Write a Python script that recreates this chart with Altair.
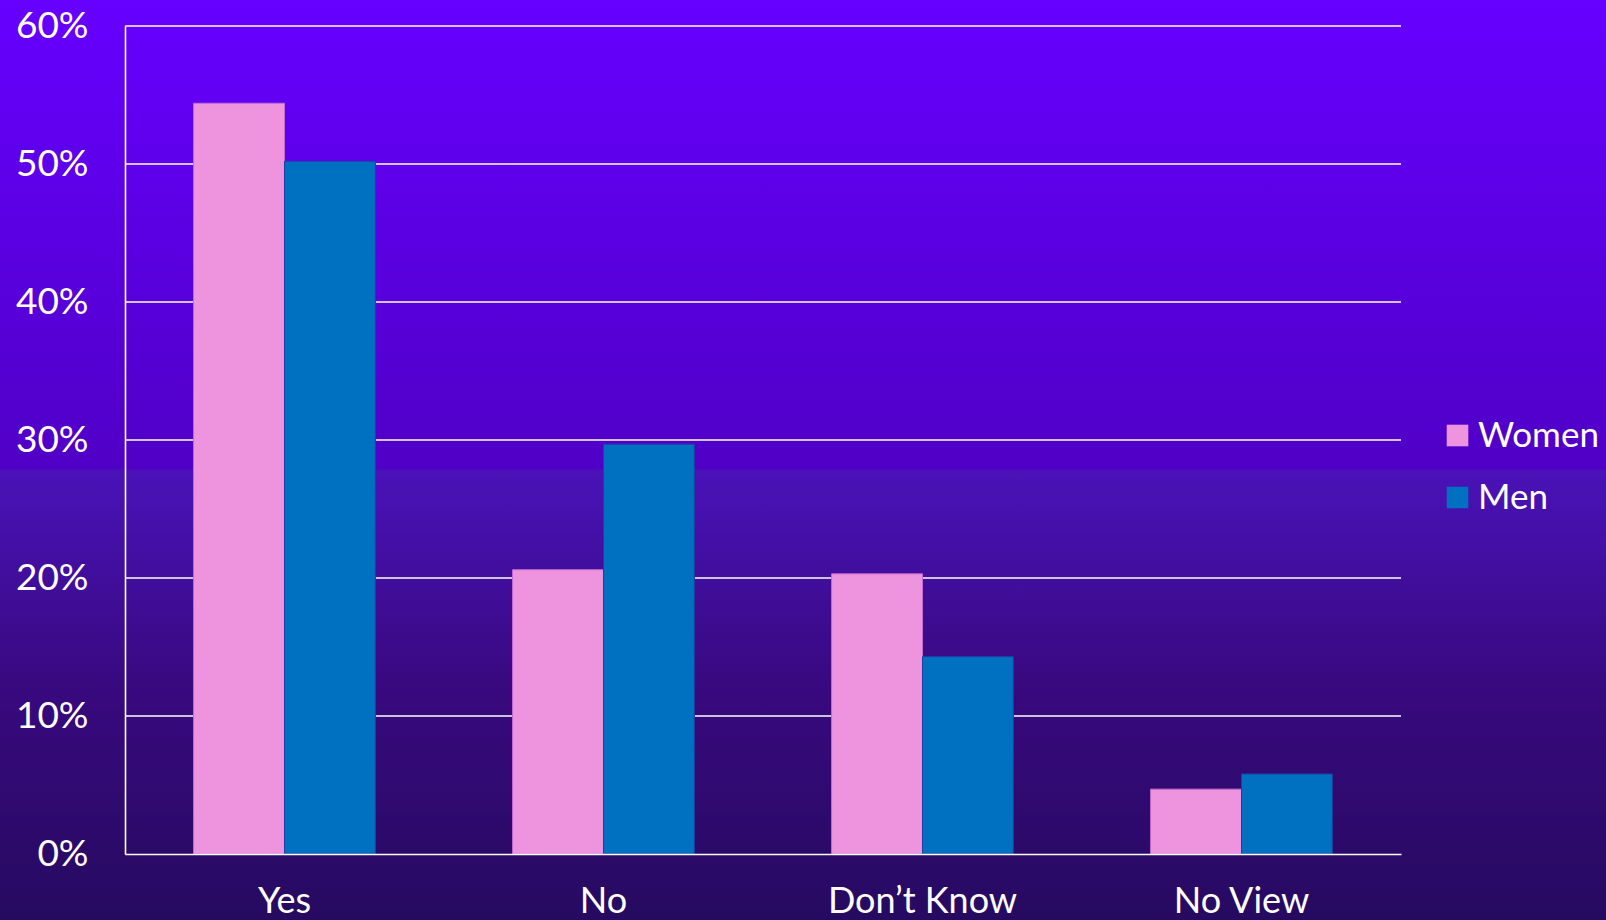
import altair as alt
import pandas as pd

# Survey answers split by gender (percent of respondents)
answers = ["Yes", "No", "Don\u2019t Know", "No View"]
groups = ["Women", "Men"]
women = [54.4, 20.6, 20.3, 4.7]
men = [50.2, 29.7, 14.3, 5.8]
y_ticks = [0, 10, 20, 30, 40, 50, 60]
grid_levels = [10, 20, 30, 40, 50, 60]

fill_colors = ["#EE94DE", "#0070C0"]
edge_colors = ["#C46BD0", "#1E3FA0"]

W, H = 1276, 828
PAD_L, PAD_T = 125, 26
PAD_R = 1606 - PAD_L - W
PAD_B = 920 - PAD_T - H

rows = []
for a, w, m in zip(answers, women, men):
    rows.append({"answer": a, "group": "Women", "pct": w})
    rows.append({"answer": a, "group": "Men", "pct": m})
df = pd.DataFrame(rows)
grid_df = pd.DataFrame({"level": grid_levels})

FONT = "Lato"

# page-wide vertical gradient behind everything
backdrop = alt.Chart(pd.DataFrame({"k": [0]})).mark_rect(
    fill=alt.LinearGradient(
        gradient="linear",
        x1=0, y1=0, x2=0, y2=1,
        stops=[
            alt.GradientStop(offset=0.0, color="#6600FF"),
            alt.GradientStop(offset=0.508, color="#5000C6"),
            alt.GradientStop(offset=0.512, color="#4A12B8"),
            alt.GradientStop(offset=0.75, color="#38097E"),
            alt.GradientStop(offset=1.0, color="#260A60"),
        ],
    ),
    strokeWidth=0,
).encode(
    x=alt.value(-PAD_L),
    x2=alt.value(W + PAD_R),
    y=alt.value(-PAD_T),
    y2=alt.value(H + PAD_B),
)

yscale = alt.Scale(domain=[0, 60], nice=False, zero=True)

gridlines = alt.Chart(grid_df).mark_rule(color="#FFFFFF", strokeWidth=1.6).encode(
    y=alt.Y("level:Q", scale=yscale, title=None),
    x=alt.value(0),
    x2=alt.value(W),
)

bars = alt.Chart(df).mark_bar(strokeWidth=1).encode(
    x=alt.X(
        "answer:N",
        sort=answers,
        scale=alt.Scale(paddingInner=0.43, paddingOuter=0.215),
        title=None,
        axis=alt.Axis(
            labelAngle=0,
            labelColor="#FFFFFF",
            labelFont=FONT,
            labelFontSize=36,
            labelPadding=30,
            labelLimit=0,
            ticks=False,
            domainColor="#FFFFFF",
            domainWidth=1.6,
            grid=False,
            zindex=1,
        ),
    ),
    xOffset=alt.XOffset("group:N", sort=groups, scale=alt.Scale(paddingInner=0, paddingOuter=0)),
    y=alt.Y(
        "pct:Q",
        scale=yscale,
        title=None,
        axis=alt.Axis(
            values=y_ticks,
            labelExpr="datum.value + '%'",
            labelColor="#FFFFFF",
            labelFont=FONT,
            labelFontSize=37,
            labelPadding=37,
            ticks=False,
            grid=False,
            domainColor="#FFFFFF",
            domainWidth=1.6,
            zindex=1,
        ),
    ),
    color=alt.Color(
        "group:N",
        sort=groups,
        scale=alt.Scale(domain=groups, range=fill_colors),
        legend=alt.Legend(
            title=None,
            orient="none",
            legendX=W + 39,
            legendY=392,
            symbolType="square",
            symbolSize=467,
            symbolStrokeWidth=0,
            labelColor="#FFFFFF",
            labelFont=FONT,
            labelFontSize=35,
            labelOffset=3,
            labelLimit=0,
            rowPadding=26,
            padding=0,
        ),
    ),
    stroke=alt.Stroke(
        "group:N",
        sort=groups,
        scale=alt.Scale(domain=groups, range=edge_colors),
        legend=None,
    ),
)

chart = alt.layer(backdrop, gridlines, bars).properties(
    width=W,
    height=H,
    autosize=alt.AutoSizeParams(type="none"),
    padding={"left": PAD_L, "top": PAD_T, "right": PAD_R, "bottom": PAD_B},
    background="#260A60",
).configure_view(stroke=None)

chart.save("out.html", embed_options={"renderer": "svg", "actions": False})
